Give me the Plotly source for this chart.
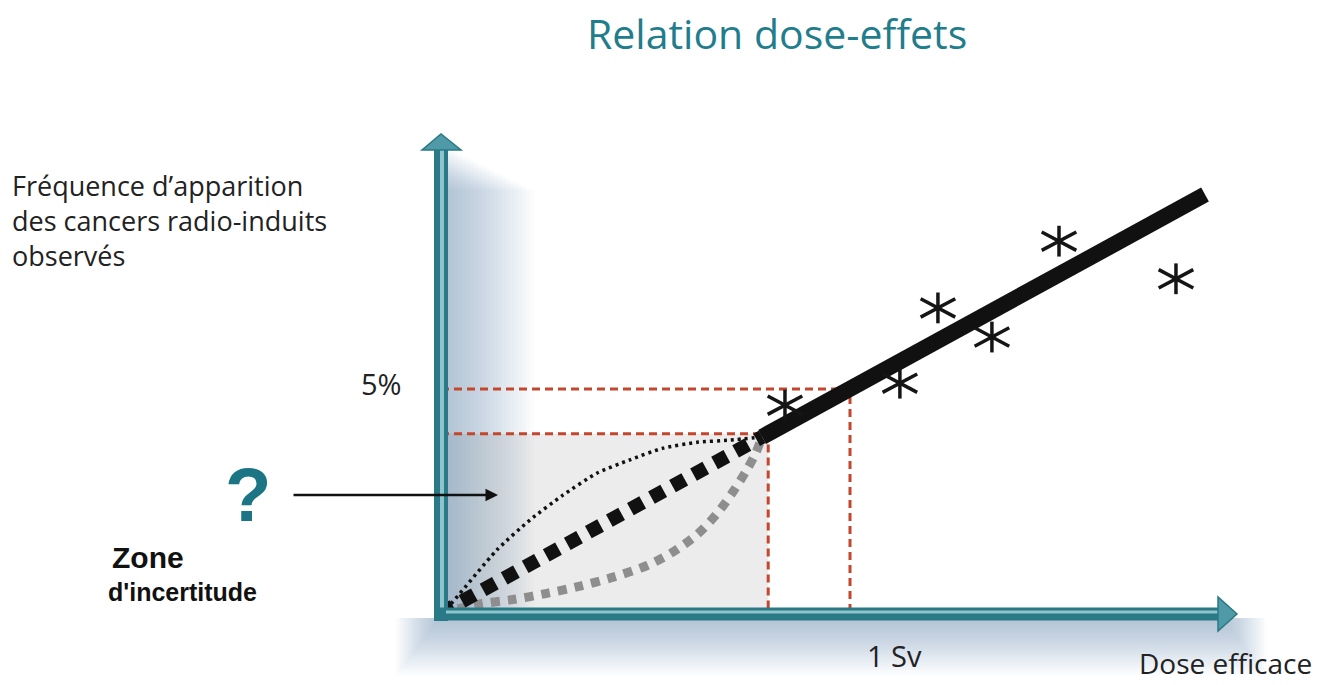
import plotly.graph_objects as go

# ---------------- data ----------------
ref_dose = 1.0          # Sv
ref_freq = 5.0          # %
thr_dose = 0.8
thr_freq = 4.0

fit_x = [0.785, 1.868]
fit_y = [3.93, 9.34]

obs_x = [0.841, 1.122, 1.215, 1.347, 1.511, 1.797]
obs_y = [4.64, 5.13, 6.81, 6.16, 8.30, 7.46]

concave_x = [0.0, 0.017, 0.137, 0.218, 0.298, 0.381, 0.462, 0.543, 0.626, 0.707, 0.785]
concave_y = [0.0, 0.13, 1.41, 2.08, 2.63, 3.12, 3.42, 3.68, 3.81, 3.86, 3.93]

linear_x = [0.0, 0.785]
linear_y = [0.0, 3.93]

convex_x = [0.0, 0.095, 0.176, 0.259, 0.340, 0.421, 0.504, 0.565, 0.626, 0.675, 0.715, 0.748, 0.770, 0.785]
convex_y = [0.0, 0.20, 0.30, 0.44, 0.60, 0.80, 1.06, 1.35, 1.75, 2.22, 2.72, 3.20, 3.58, 3.93]

ylabel_lines = ["Fréquence d’apparition", "des cancers radio-induits", "observés"]
zone_lines = ["Zone", "d'incertitude"]

# ---------------- layout helpers ----------------
W, H = 1318, 685
OX, OY = 441, 613
SX, SY = 409.0, 44.8


def px2x(px):
    return (px - OX) / SX


def py2y(py):
    return (OY - py) / SY


def pap(px, py):
    return px / W, 1 - py / H


TEAL_DARK = "#2a7986"
TEAL_MID = "#4f9aa6"
TEAL_LIGHT = "#8fc4cc"
RED = "#c4462c"
INK = "#151515"

fig = go.Figure()

# reference dashed guides
fig.add_trace(go.Scatter(x=[0, ref_dose, ref_dose], y=[ref_freq, ref_freq, 0], mode="lines",
                         line=dict(color=RED, width=3, dash="8px,5px"), hoverinfo="skip"))
fig.add_trace(go.Scatter(x=[0, thr_dose, thr_dose], y=[thr_freq, thr_freq, 0], mode="lines",
                         line=dict(color=RED, width=3, dash="8px,5px"), hoverinfo="skip"))

# uncertainty curves
fig.add_trace(go.Scatter(x=convex_x, y=convex_y, mode="lines", line_shape="spline",
                         line=dict(color="#8e8e8e", width=9, dash="9px,8px", smoothing=0.8),
                         hoverinfo="skip"))
fig.add_trace(go.Scatter(x=concave_x, y=concave_y, mode="lines", line_shape="spline",
                         line=dict(color="#111111", width=3.5, dash="3px,4px", smoothing=0.6),
                         hoverinfo="skip"))
fig.add_trace(go.Scatter(x=linear_x, y=linear_y, mode="lines",
                         line=dict(color="#111111", width=14, dash="14px,10px"), hoverinfo="skip"))

# fitted line
fig.add_trace(go.Scatter(x=fit_x, y=fit_y, mode="lines",
                         line=dict(color="#111111", width=16), hoverinfo="skip"))

# asterisks (observations)
for sym, ang, sz in [("line-ns-open", 0, 22), ("line-ew-open", 28, 28), ("line-ew-open", -28, 28)]:
    fig.add_trace(go.Scatter(x=obs_x, y=obs_y, mode="markers",
                             marker=dict(symbol=sym, size=sz, angle=ang, color=INK,
                                         line=dict(color=INK, width=3.5)),
                             hoverinfo="skip"))

shapes = []
# grey uncertainty zone
shapes.append(dict(type="rect", layer="below", x0=0, y0=0, x1=thr_dose, y1=thr_freq,
                   fillcolor="#ececec", line=dict(width=0)))
# y-axis soft shadow
N = 22
for k in range(1, N + 1):
    shapes.append(dict(type="rect", layer="below",
                       x0=px2x(446), x1=px2x(446 + 4 * k),
                       y0=py2y(620), y1=py2y(146 + 2 * k),
                       fillcolor="#6a8fab", opacity=0.022, line=dict(width=0)))
# x-axis soft shadow
for k in range(1, N + 1):
    shapes.append(dict(type="rect", layer="below",
                       x0=px2x(440 - 2 * k), x1=px2x(1222 + 2 * k),
                       y0=py2y(618), y1=py2y(618 + 2.6 * k),
                       fillcolor="#6a8fab", opacity=0.024, line=dict(width=0)))

# axes arrows (shafts)
shapes.append(dict(type="line", layer="above", x0=px2x(441), x1=px2x(441), y0=py2y(621), y1=py2y(148),
                   line=dict(color=TEAL_DARK, width=14)))
shapes.append(dict(type="line", layer="above", x0=px2x(442), x1=px2x(442), y0=py2y(617), y1=py2y(150),
                   line=dict(color=TEAL_LIGHT, width=4)))
shapes.append(dict(type="line", layer="above", x0=px2x(434), x1=px2x(1220), y0=py2y(614), y1=py2y(614),
                   line=dict(color=TEAL_DARK, width=13)))
shapes.append(dict(type="line", layer="above", x0=px2x(446), x1=px2x(1220), y0=py2y(612), y1=py2y(612),
                   line=dict(color=TEAL_LIGHT, width=3)))


def tri(pts):
    return "M " + " L ".join(f"{px2x(a)},{py2y(b)}" for a, b in pts) + " Z"


shapes.append(dict(type="path", layer="above", path=tri([(422, 150), (461, 150), (441, 134)]),
                   fillcolor=TEAL_MID, line=dict(color=TEAL_DARK, width=1.5)))
shapes.append(dict(type="path", layer="above", path=tri([(1218, 597), (1218, 631), (1237, 614)]),
                   fillcolor=TEAL_MID, line=dict(color=TEAL_DARK, width=1.5)))

ann = []


def text(px, py, t, size, color="#222222", xanchor="center", yanchor="middle", align="center",
         family="Open Sans", bold=False):
    x, y = pap(px, py)
    if bold:
        t = "<b>" + t + "</b>"
    ann.append(dict(x=x, y=y, xref="paper", yref="paper", text=t, showarrow=False,
                    xanchor=xanchor, yanchor=yanchor, align=align,
                    font=dict(size=size, color=color, family=family)))


text(777, 33, "Relation dose-effets", 41, color="#1f7d8c")
text(10, 220, "<br>".join(ylabel_lines), 27, xanchor="left", align="left")
text(381, 383, "5%", 29)
text(894, 655, "1 Sv", 29)
text(1314, 663, "Dose efficace", 28, xanchor="right")
text(248, 494, "?", 76, color="#1b7585", family="Liberation Sans", bold=True)
text(110, 557, zone_lines[0], 30, color="#111111", family="Liberation Sans", bold=True, xanchor="left")
text(106, 592, zone_lines[1], 25, color="#111111", family="Liberation Sans", bold=True, xanchor="left")

# pointer arrow
tx, ty = pap(498, 495)
ann.append(dict(x=tx, y=ty, xref="paper", yref="paper", ax=-206, ay=0, axref="pixel", ayref="pixel",
                text="", showarrow=True, arrowhead=2, arrowsize=1, arrowwidth=2.5, arrowcolor="#111111"))

fig.update_layout(
    width=W, height=H, margin=dict(l=0, r=0, t=0, b=0),
    paper_bgcolor="white", plot_bgcolor="white",
    showlegend=False, shapes=shapes, annotations=ann,
    xaxis=dict(visible=False, range=[px2x(0), px2x(W)], fixedrange=True),
    yaxis=dict(visible=False, range=[py2y(H), py2y(0)], fixedrange=True),
)

fig.write_html("out.html", config={"displayModeBar": False},
               post_script="document.body.style.margin='0';document.body.style.overflow='hidden';")
